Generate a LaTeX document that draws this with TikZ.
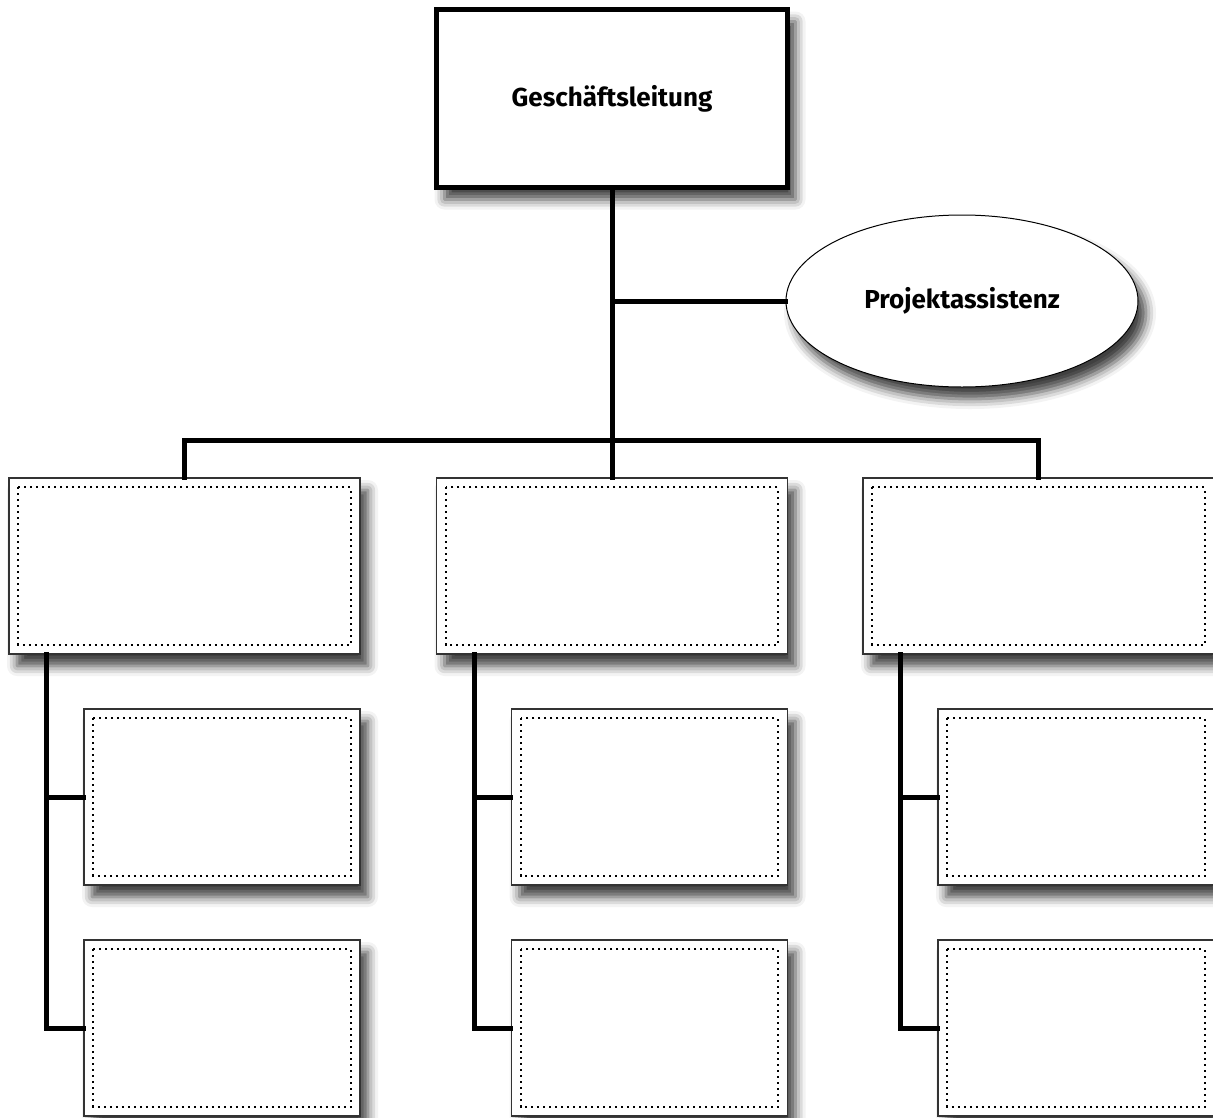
\documentclass[tikz,border=0pt]{standalone}
\usepackage{fontspec}
\setmainfont{Fira Sans}
\usetikzlibrary{shadows.blur,calc,shapes.geometric}
\begin{document}
\begin{tikzpicture}[x=1pt,y=-1pt,
  shd/.style={blur shadow={shadow xshift=8pt,shadow yshift=-12pt,shadow blur radius=10pt,shadow opacity=75}},
  topbox/.style={draw=black,line width=5pt,fill=white,minimum width=351pt,minimum height=178pt,inner sep=0pt,shd,font=\fontsize{26}{31}\selectfont\bfseries},
  bigbox/.style={draw=black!80,line width=1.4pt,fill=white,minimum width=351pt,minimum height=176pt,inner sep=0pt,shd},
  smallbox/.style={draw=black!80,line width=1.4pt,fill=white,minimum width=276pt,minimum height=176pt,inner sep=0pt,shd},
  oval/.style={draw=black,line width=1pt,fill=white,ellipse,minimum width=352pt,minimum height=172pt,inner sep=0pt,shd,font=\fontsize{26}{31}\selectfont\bfseries},
  conn/.style={line width=5pt,line join=miter,line cap=rect},
  dots/.style={line width=2pt,dash pattern=on 2pt off 4pt}
]
\useasboundingbox (0,0) rectangle (1213,1117);
% nodes
\node[topbox] (gl) at (612,98.5) {Geschäftsleitung};
\node[oval] (pa) at (962,301) {Projektassistenz};
\node[bigbox] (b1) at (184.5,566) {};
\node[bigbox] (b2) at (612,566) {};
\node[bigbox] (b3) at (1038.5,566) {};
\node[smallbox] (c11) at (222,797) {};
\node[smallbox] (c12) at (222,1028) {};
\node[smallbox] (c21) at (649.5,797) {};
\node[smallbox] (c22) at (649.5,1028) {};
\node[smallbox] (c31) at (1076,797) {};
\node[smallbox] (c32) at (1076,1028) {};
% dotted inner frames
\foreach \n in {b1,b2,b3,c11,c12,c21,c22,c31,c32}{
  \draw[dots] ([xshift=10pt,yshift=-10pt]\n.north west) rectangle ([xshift=-10pt,yshift=10pt]\n.south east);
}
% connectors
\coordinate (bar) at (612,440);
\coordinate (s1) at (46.5,0);
\coordinate (s2) at (474,0);
\coordinate (s3) at (900,0);
\draw[conn] (gl.south) -- (bar);
\draw[conn] (gl.south |- pa.west) -- (pa.west);
\draw[conn] (b1.north) -- (b1.north |- bar) -- (b3.north |- bar) -- (b3.north);
\draw[conn] (bar) -- (b2.north);
\draw[conn] (s1 |- b1.south) -- (s1 |- c12.west) -- (c12.west);
\draw[conn] (s1 |- c11.west) -- (c11.west);
\draw[conn] (s2 |- b2.south) -- (s2 |- c22.west) -- (c22.west);
\draw[conn] (s2 |- c21.west) -- (c21.west);
\draw[conn] (s3 |- b3.south) -- (s3 |- c32.west) -- (c32.west);
\draw[conn] (s3 |- c31.west) -- (c31.west);
\end{tikzpicture}
\end{document}
